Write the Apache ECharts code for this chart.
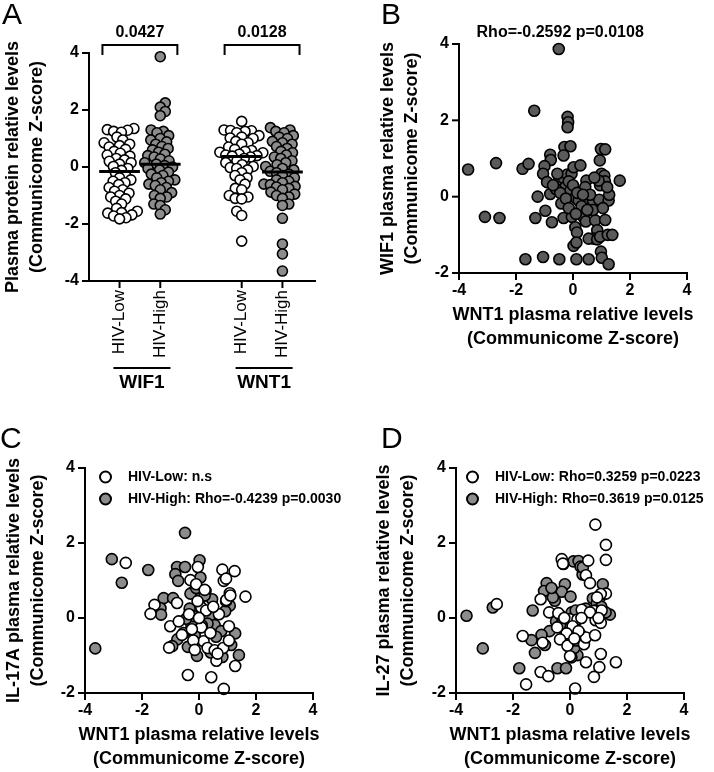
<!DOCTYPE html>
<html><head><meta charset="utf-8">
<script src="https://cdn.jsdelivr.net/npm/echarts@6/dist/echarts.min.js"></script>
<style>html,body{margin:0;padding:0;background:#fff}#c{width:714px;height:772px}</style>
</head><body><div id="c"></div>
<script>
// ---------- DATA ----------
const groupLabels = ['HIV-Low','HIV-High','HIV-Low','HIV-High'];
const proteinLabels = ['WIF1','WNT1'];
const pValuesA = ['0.0427','0.0128'];
const ticksA = [-4,-2,0,2,4];
const ticksX = [-4,-2,0,2,4];
const ticksY = [-2,0,2,4];

const wif1Low = [1.35,1.31,1.29,1.25,1.22,1.05,0.95,0.85,0.8,0.75,0.7,0.62,0.55,0.48,0.42,0.38,0.3,0.25,0.2,0.15,0.1,0.02,-0.05,-0.12,-0.2,-0.3,-0.38,-0.45,-0.5,-0.55,-0.62,-0.72,-0.8,-0.85,-0.92,-1.0,-1.05,-1.12,-1.2,-1.3,-1.45,-1.55,-1.6,-1.62,-1.68,-1.72,-1.78,-1.82];
const wif1High = [3.87,2.25,2.1,1.95,1.8,1.3,1.25,1.2,1.1,1.0,0.95,0.88,0.8,0.72,0.65,0.6,0.52,0.45,0.4,0.35,0.28,0.22,0.15,0.1,0.05,0.0,-0.05,-0.1,-0.18,-0.25,-0.3,-0.38,-0.45,-0.5,-0.55,-0.6,-0.65,-0.72,-0.8,-0.9,-1.0,-1.05,-1.1,-1.3,-1.35,-1.5,-1.65];
const wnt1Low = [1.6,1.3,1.28,1.27,1.25,1.2,1.1,1.05,1.02,1.0,0.9,0.85,0.8,0.7,0.62,0.58,0.55,0.52,0.5,0.45,0.42,0.4,0.38,0.35,0.3,0.22,0.15,0.08,0.02,-0.02,-0.05,-0.1,-0.2,-0.3,-0.38,-0.45,-0.6,-0.75,-0.8,-1.0,-1.05,-1.1,-1.12,-1.55,-1.7,-2.6];
const wnt1High = [1.38,1.3,1.25,1.2,1.1,1.05,1.0,0.9,0.85,0.8,0.72,0.65,0.55,0.5,0.42,0.35,0.3,0.22,0.15,0.08,0.02,-0.05,-0.1,-0.15,-0.2,-0.25,-0.3,-0.38,-0.45,-0.5,-0.55,-0.6,-0.62,-0.68,-0.7,-0.75,-0.8,-0.88,-0.95,-1.0,-1.05,-1.1,-1.3,-1.35,-1.8,-2.7,-3.05,-3.65];

// Panel B: [WNT1, WIF1]
const wnt1VsWif1 = [[-0.50,3.87],[-1.36,2.25],[-0.19,2.09],[-0.17,1.95],[-0.19,1.82],[-0.30,1.30],[-0.09,1.32],[-0.33,1.08],[-0.80,1.10],[-0.78,0.96],[0.94,0.95],[0.98,1.25],[1.13,1.24],[-3.68,0.71],[-2.70,0.88],[-1.77,0.73],[-1.56,0.86],[-1.00,0.80],[-1.05,0.60],[-0.91,0.38],[-0.80,0.07],[-1.24,0.00],[-0.50,0.42],[-0.35,0.50],[-0.20,0.58],[-0.05,0.60],[0.02,0.77],[0.26,0.82],[-0.27,0.25],[-0.41,-0.18],[-0.15,0.40],[-0.10,0.15],[0.08,-0.02],[0.20,-0.10],[0.47,0.42],[0.43,0.25],[0.55,-0.06],[0.70,-0.10],[0.92,-0.08],[1.25,-0.10],[1.27,0.05],[0.95,0.30],[1.05,0.45],[1.00,0.60],[1.10,0.55],[1.12,0.40],[0.90,0.42],[1.64,0.42],[-1.32,-0.56],[-0.97,-0.37],[-0.74,-0.67],[-3.09,-0.53],[-2.58,-0.56],[-0.33,-0.56],[-0.04,-0.53],[0.08,-0.80],[0.14,-0.94],[0.02,-1.29],[0.12,-1.20],[0.25,-0.40],[0.38,-0.55],[0.45,-0.65],[0.30,-0.25],[0.78,-0.62],[0.85,-0.88],[0.72,-1.10],[0.55,-1.10],[0.85,-1.12],[0.95,-1.05],[1.22,-1.00],[1.38,-1.00],[1.13,-0.61],[-1.67,-1.64],[-1.05,-1.58],[-0.48,-1.64],[0.12,-1.64],[0.55,-1.64],[0.98,-1.44],[1.01,-1.60],[1.25,-1.77],[-0.60,0.20],[-0.45,0.10],[-0.25,-0.05],[0.00,0.30],[0.15,0.10],[-0.15,-0.30],[0.60,0.05],[0.75,0.50],[0.70,-0.35],[1.05,-0.30],[0.10,-0.45],[-0.55,0.60],[-0.70,0.30],[0.35,0.05],[0.50,-0.35],[1.20,0.25]];
const statB = 'Rho=-0.2592 p=0.0108';

// Panel C: [WNT1, IL-17A]
const il17High = [[-0.49,2.27],[-3.06,1.57],[-2.71,0.94],[-1.78,1.28],[-3.64,-0.81],[-0.77,1.36],[-0.49,1.36],[-0.83,1.17],[-0.73,0.99],[0.02,1.54],[0.05,1.08],[-0.19,0.70],[0.23,0.72],[0.05,0.53],[0.46,0.50],[-1.24,0.53],[-0.91,0.53],[-1.35,0.26],[-1.33,0.09],[-0.33,0.25],[0.12,0.04],[0.37,0.04],[0.55,-0.19],[0.78,-0.35],[1.27,-0.41],[1.08,0.33],[0.92,0.18],[-0.27,-0.18],[-0.15,-0.46],[-0.54,-0.40],[-0.76,-0.57],[-0.94,-0.75],[-0.39,-0.77],[-0.07,-1.01],[0.41,-0.92],[0.82,-1.04],[1.13,-0.72],[1.40,-0.99],[-0.30,0.65],[-0.20,0.05],[0.20,0.60],[0.95,0.45],[-0.45,-0.02],[0.30,-0.15],[-0.10,0.80],[0.60,-0.50],[0.10,-0.20]];
const il17Low = [[-2.57,1.47],[-0.04,1.36],[-0.30,1.01],[0.82,1.29],[1.25,1.25],[0.87,0.99],[1.63,0.57],[1.08,0.66],[-1.56,0.35],[-1.70,0.11],[-0.77,0.40],[-1.01,-0.22],[-0.71,-0.09],[0.08,0.28],[-0.05,0.45],[0.08,-0.25],[0.16,-0.62],[0.30,-0.80],[0.55,-0.86],[0.61,-1.14],[1.27,-1.28],[-0.39,-1.52],[0.43,-1.58],[0.87,-1.89],[-1.05,-0.79],[0.96,0.48],[1.05,-0.22],[-0.20,-0.60],[0.85,-0.80],[-0.10,0.90],[0.25,0.20],[-0.35,0.10],[0.00,0.00],[0.70,0.10],[1.10,0.60],[0.40,-0.40],[-0.25,-0.30],[1.05,-0.60],[0.20,0.75],[-0.60,-0.45],[0.65,-0.95],[0.95,1.05],[-0.15,-0.85],[0.50,0.30]];
const namesC = ['HIV-Low: n.s','HIV-High: Rho=-0.4239 p=0.0030'];

// Panel D: [WNT1, IL-27]
const il27High = [[-3.63,0.06],[-3.06,-0.81],[-2.71,0.28],[-1.78,-1.34],[-1.31,0.20],[-1.35,-0.59],[-1.23,-0.93],[-0.82,0.93],[-0.91,0.72],[-0.53,0.46],[-0.18,0.90],[-0.29,0.70],[0.02,0.57],[0.12,1.51],[0.30,1.52],[0.44,1.16],[0.37,1.37],[-0.23,1.44],[-0.44,-1.34],[-0.14,-1.34],[-0.72,-0.35],[-0.49,-0.09],[-0.21,-0.26],[0.26,-0.99],[0.15,-0.80],[1.15,0.90],[0.80,0.52],[0.94,0.39],[1.40,0.09],[1.25,0.15],[0.06,0.15],[0.37,-0.44],[-0.88,-0.72],[-0.60,0.55],[0.20,-0.60],[1.05,0.55],[-0.30,0.05],[0.55,0.25],[-0.05,-0.45],[0.45,1.35],[-1.00,-0.45],[1.10,0.30],[0.20,0.20],[-0.35,-0.20],[0.05,-1.05],[-0.65,0.80],[0.90,0.20]];
const il27Low = [[0.89,2.49],[1.26,1.95],[1.26,1.55],[-0.29,1.57],[0.64,1.53],[0.56,1.14],[0.70,0.93],[-2.57,0.37],[-1.03,0.50],[-0.73,0.15],[-0.41,0.13],[-1.66,-0.48],[-0.96,-0.66],[-1.03,-1.44],[-0.76,-1.55],[-1.54,-1.77],[0.18,-1.88],[-0.02,-0.03],[0.26,-0.04],[0.09,-0.22],[-0.12,-0.41],[-0.35,-0.57],[-0.09,-0.74],[0.00,-1.02],[0.49,-0.70],[0.56,-0.52],[0.88,-0.46],[0.41,0.22],[0.84,0.19],[1.26,0.65],[1.08,0.64],[1.11,0.20],[0.90,-0.06],[1.08,-0.13],[0.56,-1.18],[1.08,-0.96],[1.03,-1.31],[0.84,-1.57],[1.61,-1.18],[-0.25,1.45],[0.30,-0.35],[-0.20,0.00],[0.70,0.15],[0.95,0.55],[0.15,-0.55],[-0.45,-0.25],[1.00,0.00],[0.40,0.00]];
const namesD = ['HIV-Low: Rho=0.3259 p=0.0223','HIV-High: Rho=0.3619 p=0.0125'];

// ---------- LAYOUT / STYLE ----------
const FONT = '"Liberation Sans", Arial, Helvetica, sans-serif';
const GRAY = '#8c8c8c', DARK = '#5a5a5a';
const groupPos = [0.75, 1.75, 3.75, 4.75];
const A_XMAX = 5.55;
const grids = [
  {left:87, top:53, width:228, height:228},
  {left:459, top:44, width:228, height:229},
  {left:85, top:468, width:228, height:228},
  {left:456, top:468, width:228, height:228}
];
const ranges = [[0,A_XMAX,-4,4],[-4,4,-2,4],[-4,4,-2,4],[-4,4,-2,4]];
const TICK = 6;

function swarm(vals, pxY, pxX, d) {
  const idx = vals.map((v,i)=>i).sort((a,b)=>vals[a]-vals[b]);
  const placed = []; const off = new Array(vals.length);
  let flip = 1;
  for (const i of idx) {
    const y = vals[i]*pxY;
    const cands = [0];
    for (const p of placed) {
      const dy = Math.abs(p.y - y);
      if (dy < d) { const dx = Math.sqrt(d*d - dy*dy); cands.push(p.x+dx, p.x-dx); }
    }
    cands.sort((a,b)=>Math.abs(a)-Math.abs(b) || (a-b)*flip);
    let best = 0;
    for (const c of cands) {
      if (placed.every(p => (p.x-c)*(p.x-c) + (p.y-y)*(p.y-y) >= d*d - 0.01)) { best = c; break; }
    }
    flip = -flip;
    placed.push({x:best, y}); off[i] = best/pxX;
  }
  return off;
}
function median(a){const s=[...a].sort((x,y)=>x-y);const n=s.length;return n%2?s[(n-1)/2]:(s[n/2-1]+s[n/2])/2;}

function axLab(extra){return Object.assign({show:true, color:'#000', fontWeight:'bold', fontSize:16, fontFamily:FONT, margin:10}, extra||{});}
function nameStyle(){return {color:'#000', fontWeight:'bold', fontSize:18, fontFamily:FONT, lineHeight:24};}
function valAxis(gi, extra) {
  const r = ranges[gi], isX = extra.isX; delete extra.isX;
  return Object.assign({type:'value', gridIndex:gi, min: isX ? r[0] : r[2], max: isX ? r[1] : r[3], interval:2,
    axisLine:{show:false}, axisTick:{show:false}, axisLabel:axLab(),
    splitLine:{show:false}, nameLocation:'middle', nameTextStyle:nameStyle()}, extra);
}

const groupsA = [wif1Low, wif1High, wnt1Low, wnt1High];
const pxY_A = grids[0].height/8, pxX_A = grids[0].width/A_XMAX;
const series = [];
groupsA.forEach((vals, g) => {
  const offs = swarm(vals, pxY_A, pxX_A, 6.6);
  series.push({type:'scatter', xAxisIndex:0, yAxisIndex:0, symbol:'circle', symbolSize:10,
    itemStyle:{color: g%2===0 ? '#fff' : GRAY, borderColor:'#000', borderWidth:1.6, opacity:1},
    data: vals.map((v,i)=>[groupPos[g]+offs[i], v]), silent:true, z:2});
  const m = median(vals);
  series.push({type:'line', xAxisIndex:0, yAxisIndex:0, symbol:'none', silent:true, z:5,
    lineStyle:{color:'#000', width:3}, data:[[groupPos[g]-0.5, m],[groupPos[g]+0.5, m]]});
});
series.push({type:'scatter', xAxisIndex:1, yAxisIndex:1, symbolSize:11, silent:true,
  itemStyle:{color:DARK, borderColor:'#000', borderWidth:1.6, opacity:1}, data:wnt1VsWif1});
series.push({name:namesC[1], type:'scatter', xAxisIndex:2, yAxisIndex:2, symbolSize:11, silent:true,
  itemStyle:{color:GRAY, borderColor:'#000', borderWidth:1.6, opacity:1}, data:il17High});
series.push({name:namesC[0], type:'scatter', xAxisIndex:2, yAxisIndex:2, symbolSize:11, silent:true,
  itemStyle:{color:'#fff', borderColor:'#000', borderWidth:1.6, opacity:1}, data:il17Low});
series.push({name:namesD[1], type:'scatter', xAxisIndex:3, yAxisIndex:3, symbolSize:11, silent:true,
  itemStyle:{color:GRAY, borderColor:'#000', borderWidth:1.6, opacity:1}, data:il27High});
series.push({name:namesD[0], type:'scatter', xAxisIndex:3, yAxisIndex:3, symbolSize:11, silent:true,
  itemStyle:{color:'#fff', borderColor:'#000', borderWidth:1.6, opacity:1}, data:il27Low});

const xName = 'WNT1 plasma relative levels\n(Communicome Z-score)';
function legendBase(){return {orient:'vertical', itemWidth:11, itemHeight:11, itemGap:8, selectedMode:false,
  textStyle:{color:'#000', fontWeight:'bold', fontSize:14, fontFamily:FONT, padding:[0,0,0,12]}};}

const chart = echarts.init(document.getElementById('c'));
chart.setOption({
  animation:false, backgroundColor:'#fff',
  grid:grids,
  xAxis:[
    {type:'value', gridIndex:0, min:0, max:A_XMAX, axisLine:{show:false}, axisTick:{show:false}, splitLine:{show:false},
     axisLabel:axLab({customValues:groupPos, rotate:90, margin:9, fontSize:17, fontWeight:'normal',
       formatter:(v)=>{let k=0,b=1e9;groupPos.forEach((p,i)=>{if(Math.abs(p-v)<b){b=Math.abs(p-v);k=i;}});return groupLabels[k];}})},
    valAxis(1,{isX:true, name:xName, nameGap:30}),
    valAxis(2,{isX:true, name:xName, nameGap:30}),
    valAxis(3,{isX:true, name:xName, nameGap:30})
  ],
  yAxis:[
    valAxis(0,{name:'Plasma protein relative levels\n(Communicome Z-score)', nameGap:40}),
    valAxis(1,{name:'WIF1 plasma relative levels\n(Communicome Z-score)', nameGap:35}),
    valAxis(2,{name:'IL-17A plasma relative levels\n(Communicome Z-score)', nameGap:35}),
    valAxis(3,{name:'IL-27 plasma relative levels\n(Communicome Z-score)', nameGap:36})
  ],
  legend:[
    Object.assign(legendBase(), {left:94, top:465, data:namesC}),
    Object.assign(legendBase(), {left:461, top:465, data:namesD})
  ],
  series
});

// axis frames and annotations, positioned through each grid's axes
function P(gi, x, y){return chart.convertToPixel({xAxisIndex:gi, yAxisIndex:gi}, [x,y]);}
const g = [];
const fillBlack = {fill:'#000'};
function frame(gi, xt, yt) {
  const [x0,x1,y0,y1] = ranges[gi];
  const o = P(gi,x0,y0), tl = P(gi,x0,y1), br = P(gi,x1,y0);
  // axis lines as thin filled rectangles (2px)
  g.push({type:'rect', zlevel:1, z:100, shape:{x:o[0]-1, y:tl[1]-1, width:2, height:o[1]-tl[1]+2}, style:fillBlack});
  g.push({type:'rect', zlevel:1, z:100, shape:{x:o[0]-1, y:o[1]-1, width:br[0]-o[0]+2, height:2}, style:fillBlack});
  xt.forEach(t=>{const p=P(gi,t,y0); g.push({type:'rect', zlevel:1, z:100, shape:{x:p[0]-1, y:p[1], width:2, height:TICK+1}, style:fillBlack});});
  yt.forEach(t=>{const p=P(gi,x0,t); g.push({type:'rect', zlevel:1, z:100, shape:{x:p[0]-TICK-1, y:p[1]-1, width:TICK+1, height:2}, style:fillBlack});});
}
frame(0, groupPos, ticksA);
frame(1, ticksX, ticksY);
frame(2, ticksX, ticksY);
frame(3, ticksX, ticksY);

const stroke = {stroke:'#000', lineWidth:2, fill:null};
const letterStyle = {fontSize:30, fontFamily:FONT, fill:'#000'};
[['A',2,1],['B',381,1],['C',0,425],['D',381,425]].forEach(([t,x,y])=>g.push({type:'text', x, y, style:Object.assign({text:t}, letterStyle)}));
[0,1].forEach(k=>{
  const x0 = groupPos[2*k]-0.42, x1 = groupPos[2*k+1]+0.42;
  const a = P(0,x0,3.93), b = P(0,x0,4.28), c = P(0,x1,4.28), d = P(0,x1,3.93);
  g.push({type:'polyline', shape:{points:[a,b,c,d]}, style:stroke});
  const mid = P(0,(x0+x1)/2,4.28);
  g.push({type:'text', x:mid[0], y:mid[1]-4, style:{text:pValuesA[k], fontSize:16, fontWeight:'bold', fontFamily:FONT, fill:'#000', align:'center', verticalAlign:'bottom'}});
  const u0 = P(0, groupPos[2*k]-0.15, -4), u1 = P(0, groupPos[2*k+1]+0.25, -4);
  g.push({type:'line', shape:{x1:u0[0], y1:368, x2:u1[0], y2:368}, style:stroke});
  g.push({type:'text', x:(u0[0]+u1[0])/2, y:383, style:{text:proteinLabels[k], fontSize:19, fontWeight:'bold', fontFamily:FONT, fill:'#000', align:'center', verticalAlign:'middle'}});
});
const sb = P(1,-0.45,4.3);
g.push({type:'text', x:sb[0], y:sb[1], style:{text:statB, fontSize:16, fontWeight:'bold', fontFamily:FONT, fill:'#000', align:'center', verticalAlign:'middle'}});
chart.setOption({graphic:g});
</script></body></html>
